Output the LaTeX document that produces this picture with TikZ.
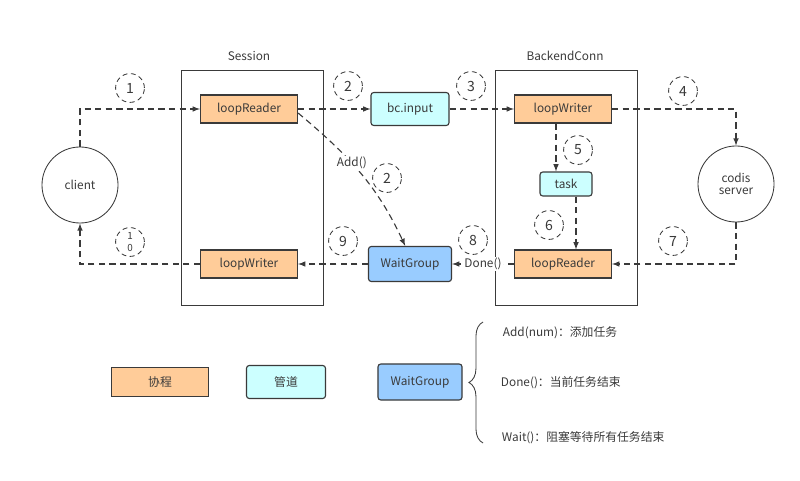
\documentclass[tikz,border=0pt]{standalone}
\usepackage{fontspec}
\setmainfont{Noto Sans CJK SC}
\usepackage{tikz}
\usetikzlibrary{arrows,decorations.pathreplacing}

\definecolor{gorange}{HTML}{FFCC99}
\definecolor{gcyan}{HTML}{CCFFFF}
\definecolor{gblue}{HTML}{99CCFF}
\definecolor{gline}{HTML}{3A3A3A}

\begin{document}
\begin{tikzpicture}[x=0.025cm,y=0.025cm,
	font=\fontsize{8.4}{10}\selectfont, text=gline,
	routine/.style={draw=gline,thick,fill=gorange,minimum width=2.425cm,minimum height=0.7cm,inner sep=0pt},
	pipe/.style={draw=gline,thick,fill=gcyan,rounded corners=2pt,inner sep=0pt},
	waitgrp/.style={draw=gline,thick,fill=gblue,rounded corners=2pt,minimum width=2.075cm,minimum height=0.875cm,inner sep=0pt},
	frame/.style={draw=gline,semithick},
	proc/.style={circle,draw=gline,semithick,minimum size=1.9cm,inner sep=0pt,align=center},
	numc/.style={circle,draw=gline,semithick,dash pattern=on 3.5pt off 2.5pt,minimum size=0.72cm,inner sep=0pt,font=\fontsize{10}{10}\selectfont},
	flow/.style={draw=gline,thick,dash pattern=on 4.5pt off 3pt,-latex},
	lbl/.style={fill=white,inner sep=1pt}]
	\useasboundingbox (0,0) rectangle (800,480);
	
	% the two frames
	\draw[frame] (181,175) rectangle (323,410);
	\draw[frame] (495,175) rectangle (637,410);
	\node (sess) at (249,424) {Session};
	\node (bconn) at (565,424) {BackendConn};
	
	\node[proc] (client) at (80,295) {client};
	\node[proc] (codis) at (736,296) {codis\\[-2pt]server};
	
	\node[routine] (lrS) at (249,371) {loopReader};
	\node[routine] (lwS) at (249,216) {loopWriter};
	\node[pipe,minimum width=1.95cm,minimum height=0.825cm] (bc) at (410,371) {bc.input};
	\node[waitgrp] (wg) at (410,216) {WaitGroup};
	\node[routine] (lwB) at (563,371) {loopWriter};
	\node[pipe,minimum width=1.3cm,minimum height=0.6cm] (task) at (566,296) {task};
	\node[routine] (lrB) at (563,216) {loopReader};
	
	% step numbers
	\node[numc] (n1) at (130,392) {1};
	\node[numc] (n2) at (348,394) {2};
	\node[numc] (n3) at (471,394) {3};
	\node[numc] (n4) at (683,389) {4};
	\node[numc] (n5) at (578,330) {5};
	\node[numc] (n2b) at (387,302) {2};
	\node[numc] (n6) at (549,255) {6};
	\node[numc] (n7) at (673,239) {7};
	\node[numc] (n8) at (473,240) {8};
	\node[numc] (n9) at (343,239) {9};
	\node[numc] (n10) at (130,238) {\fontsize{7}{7}\selectfont\shortstack{1\\0}};
	
	% flows
	\draw[flow] (client.north) |- (lrS.west);
	\draw[flow] (lrS.east) -- (bc.west);
	\draw[flow] (bc.east) -- (lwB.west);
	\draw[flow] (lwB.east) -| (codis.north);
	\draw[flow] ([xshift=-0.25cm]task.north |- lwB.south) -- ([xshift=-0.25cm]task.north);
	\draw[flow] ([xshift=0.25cm]task.south) -- ([xshift=0.25cm]task.south |- lrB.north);
	\draw[flow] (codis.south) |- (lrB.east);
	\draw[flow] (lrB.west) -- node[lbl,pos=0.5] {Done()} (wg.east);
	\draw[flow] (wg.west) -- (lwS.east);
	\draw[flow] (lwS.west) -| (client.south);
	\draw[flow] ([yshift=-0.1cm]lrS.east) to[out=-40,in=115] node[lbl,pos=0.42] {Add()} ([xshift=-0.12cm]wg.north);
	
	% legend
	\node[routine,minimum height=0.725cm,semithick] (lgr) at (160,98) {协程};
	\node[pipe,minimum width=1.975cm,minimum height=0.825cm] (lgp) at (286,98) {管道};
	\node[waitgrp,minimum width=2.1cm,minimum height=0.9cm] (lgw) at (420,98) {WaitGroup};
	
	\draw[gline,semithick,decorate,decoration={brace,amplitude=10}] (483,37) -- (483,158);
	\node[anchor=west] (tadd) at (498,147) {Add(num)：添加任务};
	\node[anchor=west] (tdone) at (496,97) {Done()：当前任务结束};
	\node[anchor=west] (twait) at (497,42) {Wait()：阻塞等待所有任务结束};
\end{tikzpicture}
\end{document}
